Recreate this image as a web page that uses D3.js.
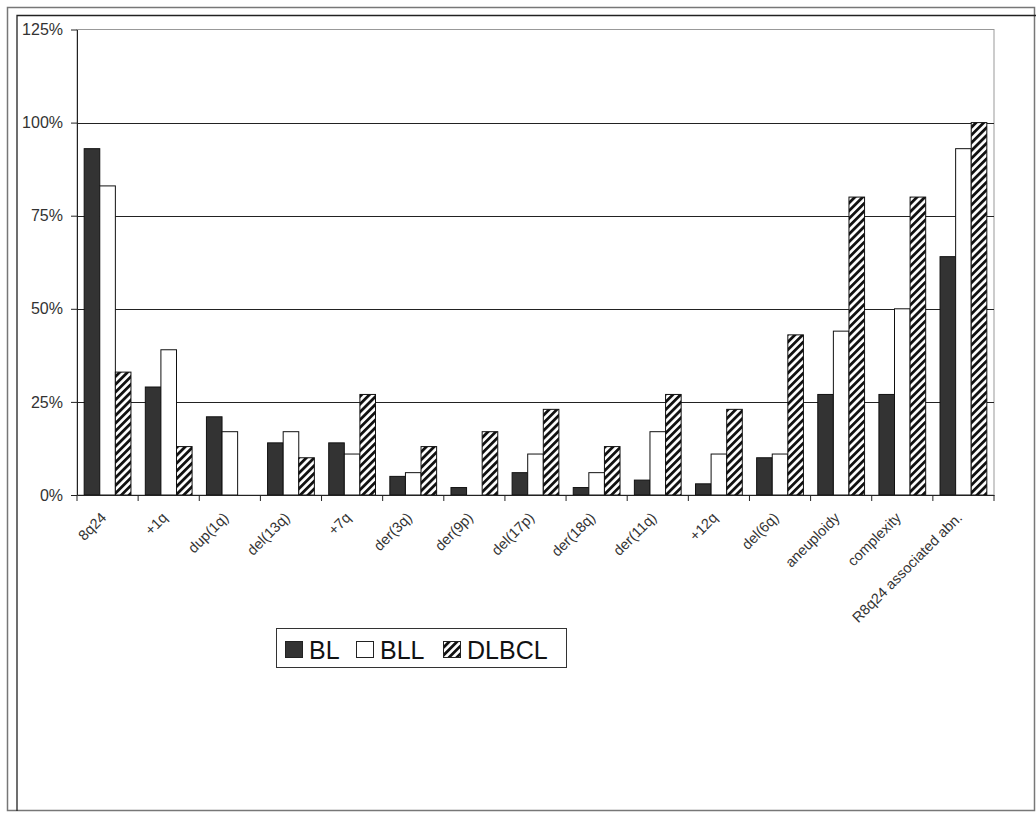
<!DOCTYPE html>
<html><head><meta charset="utf-8">
<script src="https://cdn.jsdelivr.net/npm/d3@7"></script>
<style>body{margin:0;background:#fff}svg{display:block}</style>
</head><body><svg id="c" width="1036" height="815"></svg>
<script>
const categories = ["8q24","+1q","dup(1q)","del(13q)","+7q","der(3q)","der(9p)","del(17p)","der(18q)","der(11q)","+12q","del(6q)","aneuploidy","complexity","R8q24 associated abn."];
const seriesNames = ["BL","BLL","DLBCL"];
const BL    = [93,29,21,14,14,5,2,6,2,4,3,10,27,27,64];
const BLL   = [83,39,17,17,11,6,0,11,6,17,11,11,44,50,93];
const DLBCL = [33,13,0,10,27,13,17,23,13,27,23,43,80,80,100];
const yTicks = [0,25,50,75,100,125];

const FONT = "Liberation Sans, Arial, sans-serif";
const svg = d3.select("#c");
const defs = svg.append("defs");
const pat = defs.append("pattern").attr("id","hatch").attr("patternUnits","userSpaceOnUse")
  .attr("width",5.5).attr("height",5.5).attr("patternTransform","rotate(45)");
pat.append("rect").attr("width",5.5).attr("height",5.5).attr("fill","#fff");
pat.append("rect").attr("x",0).attr("width",2.8).attr("height",5.5).attr("fill","#111");

// frames
svg.append("rect").attr("x",7.5).attr("y",7.5).attr("width",1027).attr("height",803).attr("fill","none").attr("stroke","#777").attr("stroke-width",1.5);
svg.append("path").attr("d","M17,811 V15.5 H1036").attr("fill","none").attr("stroke","#222").attr("stroke-width",1.3);

const L=77,R=994,T=29.5,B=495;
const x = d3.scaleBand().domain(categories).range([L,R]).paddingInner(0).paddingOuter(0);
const y = d3.scaleLinear().domain([0,125]).range([B,T]);
const xs = d3.scaleBand().domain(seriesNames).range([0,x.bandwidth()]).paddingInner(0).paddingOuter(0.46);

// plot area border (gray)
svg.append("rect").attr("x",L).attr("y",T).attr("width",R-L).attr("height",B-T).attr("fill","none").attr("stroke","#999").attr("stroke-width",1);

// gridlines
svg.append("g").selectAll("line").data(yTicks.filter(d=>d>0&&d<125)).join("line")
  .attr("x1",L).attr("x2",R).attr("y1",d=>Math.round(y(d))+0.5).attr("y2",d=>Math.round(y(d))+0.5)
  .attr("stroke","#222").attr("stroke-width",1);

const fills = {BL:"#333", BLL:"#fff", DLBCL:"url(#hatch)"};
const data = {BL, BLL, DLBCL};
seriesNames.forEach(s=>{
  svg.append("g").selectAll("rect").data(categories.map((c,i)=>({c,v:data[s][i]})).filter(d=>d.v>0)).join("rect")
    .attr("x",d=>x(d.c)+xs(s)).attr("width",xs.bandwidth())
    .attr("y",d=>y(d.v)).attr("height",d=>B-y(d.v))
    .attr("fill",fills[s]).attr("stroke","#111").attr("stroke-width",1);
});

// y axis
const ya = svg.append("g").attr("transform",`translate(${L},0)`)
  .call(d3.axisLeft(y).tickValues(yTicks).tickFormat(d=>d+"%").tickSize(6).tickPadding(8).tickSizeOuter(0));
ya.attr("font-size",null).attr("font-family",null);
ya.select(".domain").attr("stroke","#222");
ya.selectAll(".tick line").attr("stroke","#222");
ya.selectAll("text").style("font-family",FONT).style("font-size","16px").attr("fill","#333");

// x axis
const xa = svg.append("g").attr("transform",`translate(0,${B})`)
  .call(d3.axisBottom(x).tickSize(0).tickSizeOuter(0));
xa.attr("font-size",null).attr("font-family",null);
xa.select(".domain").attr("stroke","#222");
xa.selectAll(".tick text").style("font-family",FONT).style("font-size","14.5px").attr("fill","#333")
  .attr("text-anchor","end").attr("transform","translate(-4,20) rotate(-45)").attr("dy","0.35em").attr("y",0).attr("x",0);
// boundary ticks
svg.append("g").selectAll("line").data(d3.range(categories.length+1)).join("line")
  .attr("x1",i=>L+i*x.step()).attr("x2",i=>L+i*x.step()).attr("y1",B).attr("y2",B+6)
  .attr("stroke","#222");

// legend
const lg = svg.append("g");
lg.append("rect").attr("x",276.5).attr("y",628.5).attr("width",290).attr("height",39).attr("fill","#fff").attr("stroke","#333").attr("stroke-width",1);
const lx = [285,356,443];
seriesNames.forEach((s,i)=>{
  lg.append("rect").attr("x",lx[i]+0.5).attr("y",641.5).attr("width",17).attr("height",16).attr("fill",fills[s]).attr("stroke","#222");
  lg.append("text").attr("x",lx[i]+24).attr("y",658.5).text(s)
    .style("font-family",FONT).style("font-size","25px").attr("fill","#111");
});
</script></body></html>
